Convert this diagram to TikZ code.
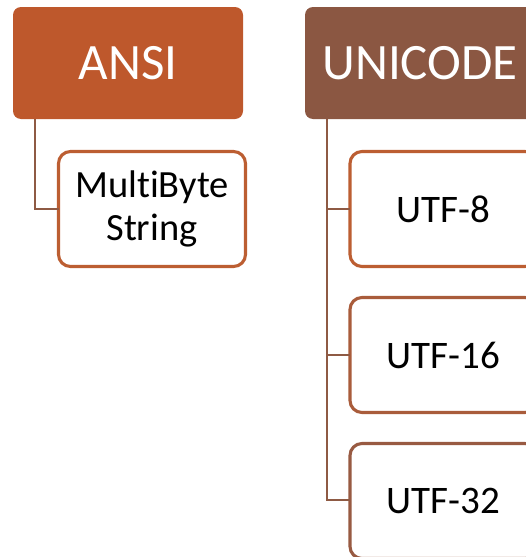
\documentclass[tikz,border=0pt]{standalone}
\usepackage{fontspec}
\setmainfont{Carlito}[Ligatures=NoCommon]
\definecolor{ansifill}{HTML}{BE582C}
\definecolor{unifill}{HTML}{8B5742}
\definecolor{linkcol}{HTML}{8E5A44}
\definecolor{edgeA}{HTML}{BC5E32}
\definecolor{edgeB}{HTML}{A95C3B}
\definecolor{edgeC}{HTML}{985A42}
\tikzset{
  x=1pt, y=1pt,
  header/.style={fill=#1, draw=none, rounded corners=8pt},
  headtext/.style={text=white, font=\fontsize{51}{60}\selectfont},
  itembox/.style={draw=#1, line width=3.1pt, fill=white, rounded corners=12pt},
  itemtext/.style={text=black, align=center, font=\fontsize{39}{46}\selectfont},
  link/.style={draw=linkcol, line width=2.9pt}
}
\begin{document}
\begin{tikzpicture}
\useasboundingbox (0,0) rectangle (525,-557);
% top-level categories
\path[header=ansifill] (13,-7) rectangle (243,-119);
\node[headtext] (ansi) at (128,-63) {ANSI};
\coordinate (ansiTop) at (35,-119);
\path[header=unifill] (305,-7) rectangle (535,-119);
\node[headtext] (unicode) at (420,-63) {UNICODE};
\coordinate (uniTop) at (327,-119);
% encoding boxes
\draw[itembox=edgeA] (58.5,-151.5) rectangle (245.5,-266.5);
\node[itemtext, font=\fontsize{38.5}{43.3}\selectfont] (mbs) at (152,-209) {MultiByte\\String};
\draw[itembox=edgeA] (350,-151.5) rectangle (537,-266.5);
\node[itemtext] (u8) at (443.5,-209) {UTF-8};
\draw[itembox=edgeB] (350,-297.5) rectangle (537,-412.5);
\node[itemtext] (u16) at (443.5,-355) {UTF-16};
\draw[itembox=edgeC] (350,-443.5) rectangle (537,-558.5);
\node[itemtext] (u32) at (443.5,-501) {UTF-32};
% tree connectors
\coordinate (mbsIn) at (58.5,-209);
\coordinate (u8In) at (350,-209);
\coordinate (u16In) at (350,-355);
\coordinate (u32In) at (350,-500);
\draw[link] (ansiTop) |- (mbsIn);
\draw[link] (uniTop) |- (u32In);
\draw[link] (uniTop |- u8In) -- (u8In);
\draw[link] (uniTop |- u16In) -- (u16In);
\end{tikzpicture}
\end{document}
